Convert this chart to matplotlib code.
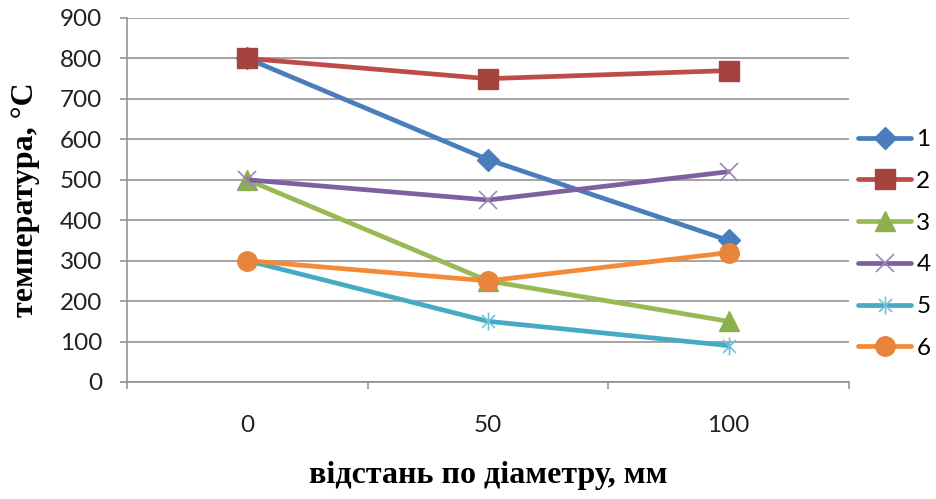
import matplotlib
matplotlib.use("Agg")
import matplotlib.pyplot as plt
from matplotlib.path import Path

# distance along the diameter, mm
categories = ["0", "50", "100"]

# temperature, °C
series_1 = [800, 550, 350]
series_2 = [800, 750, 770]
series_3 = [500, 250, 150]
series_4 = [500, 450, 520]
series_5 = [300, 150, 90]
series_6 = [300, 250, 320]

series_names = ["1", "2", "3", "4", "5", "6"]
y_ticks = [0, 100, 200, 300, 400, 500, 600, 700, 800, 900]

# asterisk marker: vertical bar plus a diagonal cross
star_path = Path(
    [(0, -1), (0, 1), (-0.72, -0.72), (0.72, 0.72), (-0.72, 0.72), (0.72, -0.72)],
    [Path.MOVETO, Path.LINETO, Path.MOVETO, Path.LINETO, Path.MOVETO, Path.LINETO],
)

styles = [
    dict(color="#4A7EBB", marker="D", ms=11, mfc="#4A7EBB", mec="#4A7EBB"),
    dict(color="#BE4B48", marker="s", ms=14, mfc="#A5443F", mec="#A5443F"),
    dict(color="#98B954", marker="^", ms=14, mfc="#8DB04E", mec="#8DB04E"),
    dict(color="#7D60A0", marker="x", ms=13, mfc="none", mec="#9C88BB", mew=1.2),
    dict(color="#46AAC5", marker=star_path, ms=13, mfc="none", mec="#6FC0D8", mew=1.2),
    dict(color="#F38A3A", marker="o", ms=14, mfc="#E8843B", mec="#E8843B"),
]

plt.rcParams["font.family"] = ["Lato", "DejaVu Sans"]

fig = plt.figure(figsize=(9.36, 4.99), dpi=100)
ax = fig.add_axes([127 / 936, 1 - 382 / 499, (849 - 127) / 936, (382 - 18) / 499])

x = list(range(len(categories)))
all_series = [series_1, series_2, series_3, series_4, series_5, series_6]
for name, values, st in zip(series_names, all_series, styles):
    ax.plot(x, values, lw=3.4, label=name, solid_capstyle="round",
            solid_joinstyle="round", **st)

grid_col = "#8C8C8C"
ax.set_xlim(-0.5, 2.5)
ax.set_ylim(0, 900)
ax.set_yticks(y_ticks)
ax.set_yticklabels([str(v) for v in y_ticks])
ax.set_xticks(x)
ax.set_xticklabels(categories)
ax.set_xticks([-0.5, 0.5, 1.5, 2.5], minor=True)
ax.yaxis.grid(True, color=grid_col, lw=1.1)
ax.set_axisbelow(True)

for side in ("top", "right"):
    ax.spines[side].set_visible(False)
for side in ("left", "bottom"):
    ax.spines[side].set_color(grid_col)
    ax.spines[side].set_linewidth(1.1)

ax.tick_params(axis="y", length=5, width=1.1, color=grid_col, pad=13,
               labelsize=17.5, labelcolor="#222222")
ax.tick_params(axis="x", which="major", length=0, pad=24,
               labelsize=17.5, labelcolor="#222222")
ax.tick_params(axis="x", which="minor", length=5, width=1.1, color=grid_col)

ax.set_xlabel("відстань по діаметру, мм", family=["Liberation Serif"],
              fontweight="bold", fontsize=23, labelpad=18)
ax.set_ylabel("температура, °C", family=["Liberation Serif"],
              fontweight="bold", fontsize=23, labelpad=14)

fig.legend(loc="center left", bbox_to_anchor=(858 / 936, 1 - 244 / 499),
           frameon=False, fontsize=17.5, handlelength=2.2, handletextpad=0.2,
           labelspacing=0.85, borderpad=0, borderaxespad=0)

fig.savefig("out.png", dpi=100)
